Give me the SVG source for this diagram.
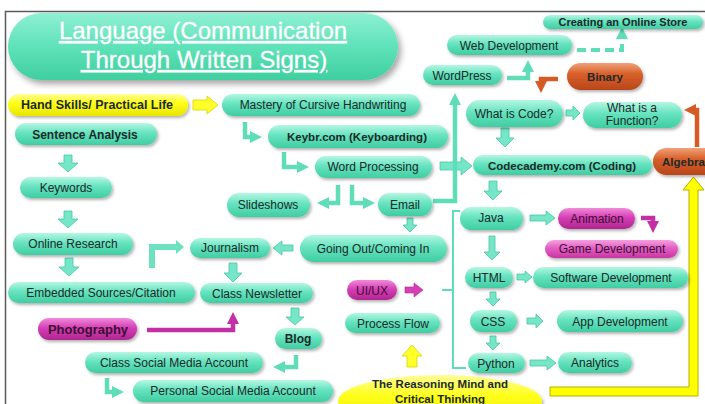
<svg xmlns="http://www.w3.org/2000/svg" width="705" height="404" viewBox="0 0 705 404">
<defs>
<linearGradient id="mint2" x1="0" y1="0" x2="0" y2="1">
<stop offset="0" stop-color="#b4f7e2"/><stop offset="0.45" stop-color="#66e3bf"/><stop offset="1" stop-color="#40cda2"/>
</linearGradient>
<linearGradient id="title" x1="0" y1="0" x2="0" y2="1">
<stop offset="0" stop-color="#8ef0d2"/><stop offset="0.5" stop-color="#5fe2b9"/><stop offset="1" stop-color="#3fcf9f"/>
</linearGradient>
<linearGradient id="mag" x1="0" y1="0" x2="0" y2="1">
<stop offset="0" stop-color="#f08ad8"/><stop offset="0.45" stop-color="#d63fb6"/><stop offset="1" stop-color="#b0258f"/>
</linearGradient>
<linearGradient id="pink" x1="0" y1="0" x2="0" y2="1">
<stop offset="0" stop-color="#f6a0e0"/><stop offset="0.45" stop-color="#e35ec4"/><stop offset="1" stop-color="#c9379f"/>
</linearGradient>
<linearGradient id="org" x1="0" y1="0" x2="0" y2="1">
<stop offset="0" stop-color="#f0a27a"/><stop offset="0.4" stop-color="#d8602a"/><stop offset="1" stop-color="#b9461a"/>
</linearGradient>
<linearGradient id="yel" x1="0" y1="0" x2="0" y2="1">
<stop offset="0" stop-color="#ffff9a"/><stop offset="0.4" stop-color="#ffff1a"/><stop offset="1" stop-color="#e8e400"/>
</linearGradient>
<filter id="sh" x="-20%" y="-30%" width="140%" height="170%">
<feDropShadow dx="1.5" dy="2" stdDeviation="1.5" flood-color="#000" flood-opacity="0.3"/>
</filter>
<filter id="shT" x="-10%" y="-20%" width="125%" height="150%">
<feDropShadow dx="3" dy="4" stdDeviation="3" flood-color="#000" flood-opacity="0.35"/>
</filter>
<marker id="am" markerUnits="userSpaceOnUse" markerWidth="12" markerHeight="12" refX="6" refY="6" orient="auto">
<path d="M0,0 L12,6 L0,12 z" fill="#5fdcb8"/>
</marker>
<marker id="ao" markerUnits="userSpaceOnUse" markerWidth="12" markerHeight="12" refX="6" refY="6" orient="auto">
<path d="M0,0 L12,6 L0,12 z" fill="#d65a24"/>
</marker>
<marker id="ag" markerUnits="userSpaceOnUse" markerWidth="12" markerHeight="12" refX="6" refY="6" orient="auto">
<path d="M0,0 L12,6 L0,12 z" fill="#c42fa6"/>
</marker>
</defs>
<style>
text{font-family:"Liberation Sans",Arial,sans-serif;font-size:12px;fill:#1b2a28;text-anchor:middle}
.b{font-weight:bold}
.m rect{fill:url(#mint2);filter:url(#sh)}
.g rect{fill:url(#mag);filter:url(#sh)}
.o rect{fill:url(#org);filter:url(#sh)}
.y rect,.y ellipse{fill:url(#yel);filter:url(#sh)}
.g text{fill:#3a0f32}
.blk{fill:#76e6c8;stroke:#47c6a0;stroke-width:0.8}
.ln{fill:none;stroke:#5fdcb8;stroke-width:4.5;marker-end:url(#am)}
.lo{fill:none;stroke:#d65a24;stroke-width:4.5;marker-end:url(#ao)}
.lg{fill:none;stroke:#c42fa6;stroke-width:4.5;marker-end:url(#ag)}
.ttl{fill:#ffffff;font-size:24px;text-decoration:underline;stroke:#ffffff;stroke-width:0.3}
</style>
<rect x="5.5" y="11.5" width="720" height="420" fill="none" stroke="#5a5a5a" stroke-width="1.5"/>

<g id="connectors">
<polygon points="193,100 207,100 207,96 218,105 207,114 207,110 193,110" fill="#ffff2a" stroke="#d8d400" stroke-width="0.8"/>
<path class="ln" d="M245,122 V137 H256"/>
<path class="ln" d="M284,152 V167 H303"/>
<path class="ln" d="M338,185 V203 H323"/>
<path class="ln" d="M352,185 V203 H369"/>
<polygon class="blk" points="440,162 461,162 461,157 472,166 461,175 461,170 440,170"/>
<path class="ln" d="M433,201 H455 V99"/>
<path class="ln" d="M507,78 H528 V66"/>
<path d="M577,50 H622 V38" fill="none" stroke="#5fdcb8" stroke-width="4" stroke-dasharray="9,5"/>
<path d="M622,38 V33" fill="none" stroke="#5fdcb8" stroke-width="4" marker-end="url(#am)"/>
<path class="lo" d="M558,79 H541 V87"/>
<polygon class="blk" points="566,110 573,110 573,106 580,113 573,120 573,116 566,116"/>
<polygon class="blk" points="501,128 509,128 509,138 514,138 505,147 496,138 501,138"/>
<path class="lo" d="M697,147 V110 H690"/>
<polygon class="blk" points="489,181 497,181 497,191 502,191 493,200 484,191 489,191"/>
<polygon class="blk" points="530,215 546,215 546,211 555,218 546,225 546,221 530,221"/>
<path class="lg" d="M641,218 H653 V227"/>
<polygon class="blk" points="489,236 495,236 495,252 500,252 492,260 484,252 489,252"/>
<polygon class="blk" points="517,274 525,274 525,271 532,277 525,283 525,280 517,280"/>
<polygon class="blk" points="490,292 496,292 496,299 500,299 493,306 486,299 490,299"/>
<polygon class="blk" points="527,318 536,318 536,314 543,321 536,328 536,324 527,324"/>
<polygon class="blk" points="490,336 496,336 496,343 500,343 493,350 486,343 490,343"/>
<polygon class="blk" points="530,360 547,360 547,356 556,363 547,370 547,366 530,366"/>
<path d="M460,211 H453 V368 H466 M442,290 H453" fill="none" stroke="#5fdcb8" stroke-width="2"/>
<polygon points="405,287 414,287 414,283 423,290 414,297 414,293 405,293" fill="#d63fb6" stroke="#b0258f" stroke-width="0.6"/>
<polygon points="407,367 417,367 417,356 422,356 412,345 402,356 407,356" fill="#ffff2a" stroke="#d8d400" stroke-width="0.8"/>
<polygon points="550,387 689,387 689,190 683,190 693.5,177 704,190 698,190 698,396 550,396" fill="#ffff00" stroke="#b5b000" stroke-width="1"/>
<polygon class="blk" points="407,218 413,218 413,225 417,225 410,232 403,225 407,225"/>
<polygon class="blk" points="293,245 282,245 282,241 273,248 282,255 282,251 293,251"/>
<polygon class="blk" points="229,263 237,263 237,273 242,273 233,282 224,273 229,273"/>
<path d="M152,268 V247 H176" fill="none" stroke="#6ee2c0" stroke-width="6"/>
<path d="M176,240 L184,247 L176,254 z" fill="#6ee2c0"/>
<path class="lg" d="M147,330 H233 V318"/>
<polygon class="blk" points="291,308 299,308 299,317 304,317 295,325 286,317 291,317"/>
<path class="ln" d="M296,355 V367 H279"/>
<path class="ln" d="M107,378 V392 H118"/>
<polygon class="blk" points="64,155 72,155 72,163 78,163 68,172 58,163 64,163"/>
<polygon class="blk" points="64,211 72,211 72,219 78,219 68,228 58,219 64,219"/>
<polygon class="blk" points="65,258 73,258 73,267 79,267 69,276 59,267 65,267"/>
</g>

<g id="n-title"><rect x="8" y="13" width="390" height="67" rx="33.5" fill="url(#title)" filter="url(#shT)"/>
<text class="ttl" x="203" y="39">Language (Communication</text>
<text class="ttl" x="204" y="68">Through Written Signs)</text></g>

<g id="n-hand" class="y"><rect x="8" y="94" width="180" height="22" rx="11"/><text class="b" x="97" y="109" style="font-size:12.5px">Hand Skills/ Practical Life</text></g>
<g id="n-mastery" class="m"><rect x="222" y="94" width="198" height="22" rx="11"/><text x="323" y="109">Mastery of Cursive Handwriting</text></g>
<g id="n-sentence" class="m"><rect x="15" y="123" width="142" height="22" rx="11"/><text class="b" x="85" y="139">Sentence Analysis</text></g>
<g id="n-keybr" class="m"><rect x="268" y="125" width="180" height="23" rx="11.5"/><text class="b" x="357" y="141" style="font-size:11.5px">Keybr.com (Keyboarding)</text></g>
<g id="n-word" class="m"><rect x="315" y="156" width="117" height="22" rx="11"/><text x="373" y="171">Word Processing</text></g>
<g id="n-keywords" class="m"><rect x="20" y="177" width="92" height="21" rx="10.5"/><text x="66" y="192">Keywords</text></g>
<g id="n-slides" class="m"><rect x="227" y="193" width="83" height="24" rx="12"/><text x="268" y="209">Slideshows</text></g>
<g id="n-email" class="m"><rect x="378" y="193" width="54" height="23" rx="11.5"/><text x="405" y="209">Email</text></g>
<g id="n-online" class="m"><rect x="13" y="233" width="120" height="22" rx="11"/><text x="73" y="248">Online Research</text></g>
<g id="n-journalism" class="m"><rect x="190" y="238" width="80" height="20" rx="10"/><text x="230" y="252">Journalism</text></g>
<g id="n-going" class="m"><rect x="300" y="235" width="147" height="27" rx="13.5"/><text x="373" y="253">Going Out/Coming In</text></g>
<g id="n-embedded" class="m"><rect x="8" y="282" width="187" height="21" rx="10.5"/><text x="101" y="297">Embedded Sources/Citation</text></g>
<g id="n-newsletter" class="m"><rect x="200" y="283" width="113" height="20" rx="10"/><text x="257" y="298">Class Newsletter</text></g>
<g id="n-photo" class="g"><rect x="38" y="318" width="99" height="22" rx="11"/><text class="b" x="88" y="334" style="font-size:13px">Photography</text></g>
<g id="n-blog" class="m"><rect x="275" y="328" width="47" height="21" rx="10.5"/><text class="b" x="298" y="343">Blog</text></g>
<g id="n-classsocial" class="m"><rect x="85" y="352" width="178" height="21" rx="10.5"/><text x="174" y="367">Class Social Media Account</text></g>
<g id="n-personal" class="m"><rect x="133" y="380" width="200" height="22" rx="11"/><text x="233" y="395">Personal Social Media Account</text></g>
<g id="n-uiux" class="g"><rect x="347" y="280" width="50" height="20" rx="10"/><text x="372" y="295">UI/UX</text></g>
<g id="n-process" class="m"><rect x="345" y="313" width="95" height="20" rx="10"/><text x="393" y="328">Process Flow</text></g>
<g id="n-reasoning" class="y"><ellipse cx="440" cy="401" rx="102" ry="26"/><text class="b" x="440" y="388" style="font-size:11.5px">The Reasoning Mind and</text><text class="b" x="440" y="403" style="font-size:11.5px">Critical Thinking</text></g>
<g id="n-store" class="m"><rect x="543" y="15" width="160" height="14" rx="7"/><text class="b" x="623" y="26" style="font-size:11px">Creating an Online Store</text></g>
<g id="n-webdev" class="m"><rect x="447" y="35" width="125" height="20" rx="10"/><text x="509" y="50">Web Development</text></g>
<g id="n-wordpress" class="m"><rect x="423" y="65" width="79" height="20" rx="10"/><text x="462" y="80">WordPress</text></g>
<g id="n-binary" class="o"><rect x="567" y="63" width="76" height="27" rx="13.5"/><text class="b" x="605" y="81" style="font-size:11.5px">Binary</text></g>
<g id="n-code" class="m"><rect x="466" y="100" width="97" height="27" rx="13.5"/><text x="514" y="118">What is Code?</text></g>
<g id="n-function" class="m"><rect x="583" y="102" width="99" height="26" rx="13"/><text x="632" y="112">What is a</text><text x="632" y="125">Function?</text></g>
<g id="n-algebra" class="o"><rect x="653" y="148" width="70" height="27" rx="13.5"/><text class="b" x="662" y="166" style="font-size:11.5px;text-anchor:start">Algebra</text></g>
<g id="n-codecademy" class="m"><rect x="473" y="155" width="179" height="20" rx="10"/><text class="b" x="562" y="170" style="font-size:11.5px">Codecademy.com (Coding)</text></g>
<g id="n-java" class="m"><rect x="460" y="207" width="63" height="23" rx="11.5"/><text x="491" y="222">Java</text></g>
<g id="n-animation" class="g"><rect x="558" y="208" width="77" height="21" rx="10.5"/><text x="597" y="223">Animation</text></g>
<g id="n-game" class="g"><rect x="545" y="240" width="133" height="18" rx="9" style="fill:url(#pink)"/><text x="612" y="253">Game Development</text></g>
<g id="n-html" class="m"><rect x="465" y="267" width="48" height="21" rx="10.5"/><text x="489" y="282">HTML</text></g>
<g id="n-software" class="m"><rect x="533" y="267" width="155" height="21" rx="10.5"/><text x="611" y="282">Software Development</text></g>
<g id="n-css" class="m"><rect x="470" y="310" width="47" height="22" rx="11"/><text x="493" y="326">CSS</text></g>
<g id="n-app" class="m"><rect x="557" y="310" width="126" height="22" rx="11"/><text x="620" y="326">App Development</text></g>
<g id="n-python" class="m"><rect x="468" y="353" width="57" height="20" rx="10"/><text x="496" y="368">Python</text></g>
<g id="n-analytics" class="m"><rect x="558" y="352" width="74" height="21" rx="10.5"/><text x="595" y="367">Analytics</text></g>
</svg>
